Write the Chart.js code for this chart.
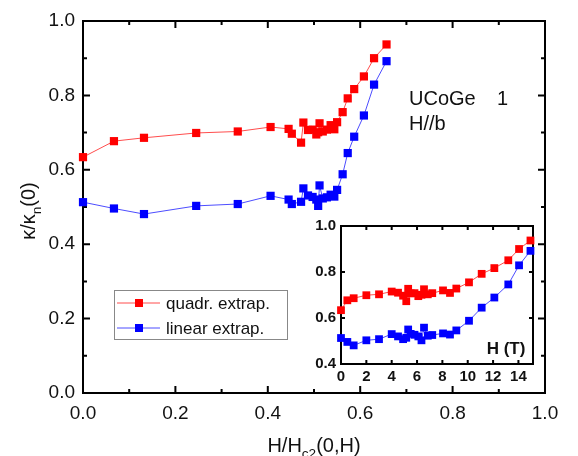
<!DOCTYPE html>
<html>
<head>
<meta charset="utf-8">
<script src="https://cdn.jsdelivr.net/npm/chart.js@4.4.0/dist/chart.umd.min.js"></script>
<style>
  html, body { margin: 0; padding: 0; background: #fff; }
  #wrap { position: relative; width: 578px; height: 456px; }
  #main { position: absolute; left: 0; top: 0; }
  #inset { position: absolute; left: 296px; top: 212px; }
</style>
</head>
<body>
<div id="wrap">
  <canvas id="main" width="578" height="456"></canvas>
  <canvas id="inset" width="244" height="180"></canvas>
</div>
<script>
// field in tesla (inset x axis)
const fieldT = [0, 0.5, 1, 2, 3, 4, 4.5, 4.9, 5.15, 5.3, 5.5, 5.8, 6.1, 6.35, 6.55, 6.85, 7.2, 8.05, 8.6, 9.1, 10.1, 11.1, 12.1, 13.2, 14.05, 14.95];
// H/Hc2(0,H) (main x axis)
const hRatio = [0, 0.067, 0.132, 0.245, 0.335, 0.406, 0.445, 0.452, 0.472, 0.477, 0.487, 0.497, 0.505, 0.509, 0.512, 0.519, 0.528, 0.536, 0.544, 0.550, 0.562, 0.573, 0.587, 0.608, 0.630, 0.657];
// kappa / kappa_n(0)
const quadrExtrap = [0.634, 0.677, 0.686, 0.699, 0.703, 0.715, 0.710, 0.697, 0.673, 0.727, 0.707, 0.708, 0.695, 0.701, 0.725, 0.703, 0.708, 0.720, 0.709, 0.728, 0.755, 0.792, 0.817, 0.851, 0.900, 0.937];
const linearExtrap = [0.513, 0.496, 0.481, 0.503, 0.508, 0.530, 0.520, 0.508, 0.514, 0.550, 0.531, 0.527, 0.520, 0.503, 0.558, 0.523, 0.526, 0.533, 0.528, 0.546, 0.588, 0.645, 0.689, 0.746, 0.829, 0.892];

const mainXMajor = [0, 0.2, 0.4, 0.6, 0.8, 1.0];
const mainXMinor = [0.1, 0.3, 0.5, 0.7, 0.9];
const mainYMajor = [0, 0.2, 0.4, 0.6, 0.8, 1.0];
const mainYMinor = [0.1, 0.3, 0.5, 0.7, 0.9];
const insetXMajor = [0, 2, 4, 6, 8, 10, 12, 14];
const insetYMajor = [0.4, 0.6, 0.8, 1.0];

const RED = '#ff0000', BLUE = '#0000ff';
const FONT = 'Arial, "Liberation Sans", sans-serif';

const pts = (xs, ys) => xs.map((x, i) => ({ x: x, y: ys[i] }));

// frame + inward ticks on all four sides
const frameTicks = {
  id: 'frameTicks',
  beforeDatasetsDraw(chart, args, o) {
    const { ctx, chartArea: a, scales: { x, y } } = chart;
    ctx.save();
    ctx.strokeStyle = '#000';
    ctx.lineWidth = o.lw;
    ctx.beginPath();
    const tick = (list, len) => {
      list.forEach(v => {
        const px = x.getPixelForValue(v);
        ctx.moveTo(px, a.bottom); ctx.lineTo(px, a.bottom - len);
        ctx.moveTo(px, a.top); ctx.lineTo(px, a.top + len);
      });
    };
    const tickY = (list, len) => {
      list.forEach(v => {
        const py = y.getPixelForValue(v);
        ctx.moveTo(a.left, py); ctx.lineTo(a.left + len, py);
        ctx.moveTo(a.right, py); ctx.lineTo(a.right - len, py);
      });
    };
    tick(o.xMajor, o.major); tick(o.xMinor || [], o.minor);
    tickY(o.yMajor, o.major); tickY(o.yMinor || [], o.minor);
    ctx.stroke();
    ctx.strokeRect(a.left, a.top, a.right - a.left, a.bottom - a.top);
    ctx.restore();
  }
};

// text with subscript parts
function drawParts(ctx, parts, x, y, size) {
  let w = 0;
  parts.forEach(p => {
    ctx.font = (p.sub ? size * 0.68 : size) + 'px ' + FONT;
    w += ctx.measureText(p.t).width;
  });
  let cx = x - w / 2;
  parts.forEach(p => {
    ctx.font = (p.sub ? size * 0.68 : size) + 'px ' + FONT;
    ctx.fillText(p.t, cx, p.sub ? y + size * 0.3 : y);
    cx += ctx.measureText(p.t).width;
  });
}

const mainText = {
  id: 'mainText',
  afterDraw(chart) {
    const ctx = chart.ctx;
    ctx.save();
    ctx.fillStyle = '#111';
    ctx.textBaseline = 'alphabetic';
    ctx.textAlign = 'left';
    // axis titles
    drawParts(ctx, [{ t: 'H/H' }, { t: 'c2', sub: true }, { t: '(0,H)' }], 314, 452, 20);
    ctx.save();
    ctx.translate(35, 211);
    ctx.rotate(-Math.PI / 2);
    drawParts(ctx, [{ t: 'κ/κ' }, { t: 'n', sub: true }, { t: '(0)' }], 0, 0, 20);
    ctx.restore();
    // sample label
    ctx.font = '20px ' + FONT;
    ctx.fillText('UCoGe', 409, 105);
    ctx.fillText('1', 497, 105);
    ctx.fillText('H//b', 409, 130);
    // legend
    ctx.strokeStyle = '#888';
    ctx.lineWidth = 1;
    ctx.strokeRect(114.5, 290.5, 173, 49);
    const rows = [['quadr. extrap.', RED, 'rgba(255,0,0,0.7)', 303], ['linear extrap.', BLUE, 'rgba(0,0,255,0.7)', 328]];
    ctx.font = '17px ' + FONT;
    ctx.textBaseline = 'middle';
    rows.forEach(r => {
      ctx.strokeStyle = r[2];
      ctx.beginPath();
      ctx.moveTo(117, r[3]); ctx.lineTo(160, r[3]);
      ctx.stroke();
      ctx.fillStyle = r[1];
      ctx.fillRect(135, r[3] - 4, 8, 8);
      ctx.fillStyle = '#111';
      ctx.fillText(r[0], 166, r[3] + 1);
    });
    ctx.restore();
  }
};

const insetBg = {
  id: 'insetBg',
  beforeDraw(chart) {
    const { ctx, chartArea: a } = chart;
    ctx.save();
    ctx.fillStyle = '#fff';
    ctx.fillRect(a.left, a.top, a.right - a.left, a.bottom - a.top);
    ctx.restore();
  },
  afterDraw(chart) {
    const ctx = chart.ctx;
    ctx.save();
    ctx.fillStyle = '#111';
    ctx.font = 'bold 17px ' + FONT;
    ctx.textAlign = 'center';
    ctx.fillText('H (T)', 210, 142);
    ctx.restore();
  }
};

function series(xs, ys, color, lineColor, r) {
  return {
    data: pts(xs, ys),
    showLine: true,
    borderColor: lineColor,
    borderWidth: 1,
    backgroundColor: color,
    pointBackgroundColor: color,
    pointBorderColor: color,
    pointBorderWidth: 0,
    pointStyle: 'rect',
    pointRadius: r,
    pointHoverRadius: r,
    clip: false
  };
}

new Chart(document.getElementById('main'), {
  type: 'scatter',
  data: {
    datasets: [
      series(hRatio, quadrExtrap, RED, 'rgba(255,0,0,0.7)', 5.8),
      series(hRatio, linearExtrap, BLUE, 'rgba(0,0,255,0.7)', 5.8)
    ]
  },
  options: {
    responsive: false,
    animation: false,
    events: [],
    layout: { padding: { top: 21, right: 33, left: 0, bottom: 0 } },
    plugins: {
      legend: { display: false },
      tooltip: { enabled: false },
      frameTicks: { xMajor: mainXMajor, xMinor: mainXMinor, yMajor: mainYMajor, yMinor: mainYMinor, major: 7, minor: 4, lw: 2 }
    },
    scales: {
      x: {
        type: 'linear', min: 0, max: 1,
        afterFit(s) { s.height = 63; },
        grid: { display: false, drawTicks: false },
        border: { display: false },
        ticks: { stepSize: 0.2, padding: 9, color: '#111', font: { family: FONT, size: 19 }, callback: v => v.toFixed(1) }
      },
      y: {
        type: 'linear', min: 0, max: 1,
        afterFit(s) { s.width = 83; },
        grid: { display: false, drawTicks: false },
        border: { display: false },
        ticks: { stepSize: 0.2, padding: 8, color: '#111', font: { family: FONT, size: 19 }, callback: v => v.toFixed(1) }
      }
    }
  },
  plugins: [frameTicks, mainText]
});

new Chart(document.getElementById('inset'), {
  type: 'scatter',
  data: {
    datasets: [
      series(fieldT, quadrExtrap, RED, 'rgba(255,0,0,0.7)', 5.5),
      series(fieldT, linearExtrap, BLUE, 'rgba(0,0,255,0.7)', 5.5)
    ]
  },
  options: {
    responsive: false,
    animation: false,
    events: [],
    layout: { padding: { top: 12, right: 7, left: 0, bottom: 0 } },
    plugins: {
      legend: { display: false },
      tooltip: { enabled: false },
      frameTicks: { xMajor: insetXMajor, yMajor: insetYMajor, major: 4, minor: 2, lw: 2 }
    },
    scales: {
      x: {
        type: 'linear', min: 0, max: 15.15,
        afterFit(s) { s.height = 28; },
        grid: { display: false, drawTicks: false },
        border: { display: false },
        ticks: { stepSize: 2, includeBounds: false, padding: 4, color: '#111', font: { family: FONT, size: 15, weight: 'bold' } }
      },
      y: {
        type: 'linear', min: 0.4, max: 1.0,
        afterFit(s) { s.width = 45; },
        grid: { display: false, drawTicks: false },
        border: { display: false },
        ticks: { stepSize: 0.2, padding: 5, color: '#111', font: { family: FONT, size: 15, weight: 'bold' }, callback: v => v.toFixed(1) }
      }
    }
  },
  plugins: [insetBg, frameTicks]
});
</script>
</body>
</html>
